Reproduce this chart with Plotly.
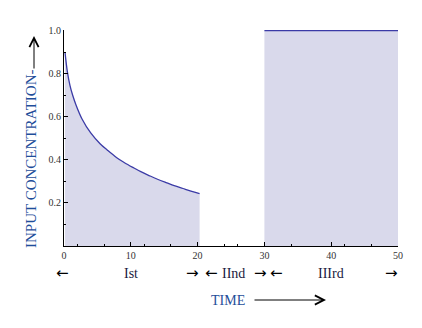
import plotly.graph_objects as go

# stage I: decaying input concentration
t_first = [0.15, 0.5, 0.9, 1.3, 1.8, 2.7, 4.0, 5.4, 6.5, 7.9, 9.0, 10.3, 11.5, 12.9, 14.0, 15.4, 16.5, 17.8, 19.0, 20.3]
c_first = [0.90, 0.81, 0.745, 0.70, 0.655, 0.59, 0.525, 0.475, 0.445, 0.41, 0.388, 0.365, 0.345, 0.325, 0.31, 0.293, 0.28, 0.267, 0.255, 0.243]

# stage III: constant input
t_third = [30, 50]
c_third = [1.0, 1.0]

x_ticks = [0, 10, 20, 30, 40, 50]
x_minor = [2, 6, 12, 16, 24, 26, 34, 42, 46]
y_ticks = [0.2, 0.4, 0.6, 0.8, 1.0]
y_ticktext = ["0.2", "0.4", "0.6", "0.8", "1.0"]

stage_labels = ["Ist", "IInd", "IIIrd"]
stage_x = [131, 233, 331]  # pixel centres in the reference
arrows_left_x = [62, 211, 276]
arrows_right_x = [192, 260, 391]

LINE = "#3b3ba6"
FILL = "#d9d9eb"
SERIF = "Liberation Serif, Times New Roman, serif"

# page body has an 8px margin, so the figure is drawn 8px smaller and offset
OFF = 8
W, H = 422 - OFF, 328 - OFF
L, T = 64 - OFF, 30 - OFF
pw, ph = 334, 216
R, B = W - L - pw, H - T - ph


def px(x):  # reference pixel -> paper
    return (x - OFF - L) / pw


def py(y):
    return (T + ph - (y - OFF)) / ph


fig = go.Figure()
fig.add_trace(go.Scatter(x=t_first, y=c_first, mode="lines", fill="tozeroy",
                         fillcolor=FILL, line=dict(color=LINE, width=1.3, shape="spline")))
fig.add_trace(go.Scatter(x=t_third, y=c_third, mode="lines", fill="tozeroy",
                         fillcolor=FILL, line=dict(color=LINE, width=1.3)))

ann = []
for txt, x in zip(stage_labels, stage_x):
    ann.append(dict(text=txt, x=px(x), y=py(273),
                    font=dict(family=SERIF, size=14, color="#1a1a40")))
for x in arrows_left_x:
    ann.append(dict(text="←", x=px(x), y=py(273),
                    font=dict(family="DejaVu Sans", size=15, color="black")))
for x in arrows_right_x:
    ann.append(dict(text="→", x=px(x), y=py(273),
                    font=dict(family="DejaVu Sans", size=15, color="black")))
ann.append(dict(text="TIME", x=px(228), y=py(300),
                font=dict(family=SERIF, size=14, color="#1f4e9a")))
ann.append(dict(text="INPUT CONCENTRATION-", x=px(31), y=py(159), textangle=-90,
                font=dict(family=SERIF, size=15, color="#1f4e9a")))
for a in ann:
    a.update(xref="paper", yref="paper", showarrow=False, xanchor="center", yanchor="middle")

# long arrows
ann.append(dict(text="", x=px(326), y=py(300), xref="paper", yref="paper",
                ax=-73, ay=0, axref="pixel", ayref="pixel",
                showarrow=True, arrowhead=5, arrowsize=1.8, arrowwidth=1, arrowcolor="black"))
ann.append(dict(text="", x=px(34), y=py(36), xref="paper", yref="paper",
                ax=0, ay=34, axref="pixel", ayref="pixel",
                showarrow=True, arrowhead=5, arrowsize=1.8, arrowwidth=1, arrowcolor="black"))

fig.update_layout(
    width=W, height=H,
    margin=dict(l=L, r=R, t=T, b=B),
    plot_bgcolor="white", paper_bgcolor="white",
    showlegend=False,
    annotations=ann,
    font=dict(family=SERIF, size=10, color="#333"),
)
fig.update_xaxes(range=[0, 50], tickvals=x_ticks, ticks="inside", ticklen=4,
                 showgrid=False, zeroline=False, showline=True, linecolor="black", linewidth=1,
                 tickcolor="black",
                 minor=dict(tickvals=x_minor, ticks="inside", ticklen=2, tickcolor="black"))
fig.update_yaxes(range=[0, 1.003], tickvals=y_ticks, ticktext=y_ticktext, ticks="inside", ticklen=4,
                 showgrid=False, zeroline=False, showline=True, linecolor="black", linewidth=1,
                 tickcolor="black",
                 minor=dict(dtick=0.1, ticks="inside", ticklen=2, tickcolor="black"))

fig.write_html("out.html")
